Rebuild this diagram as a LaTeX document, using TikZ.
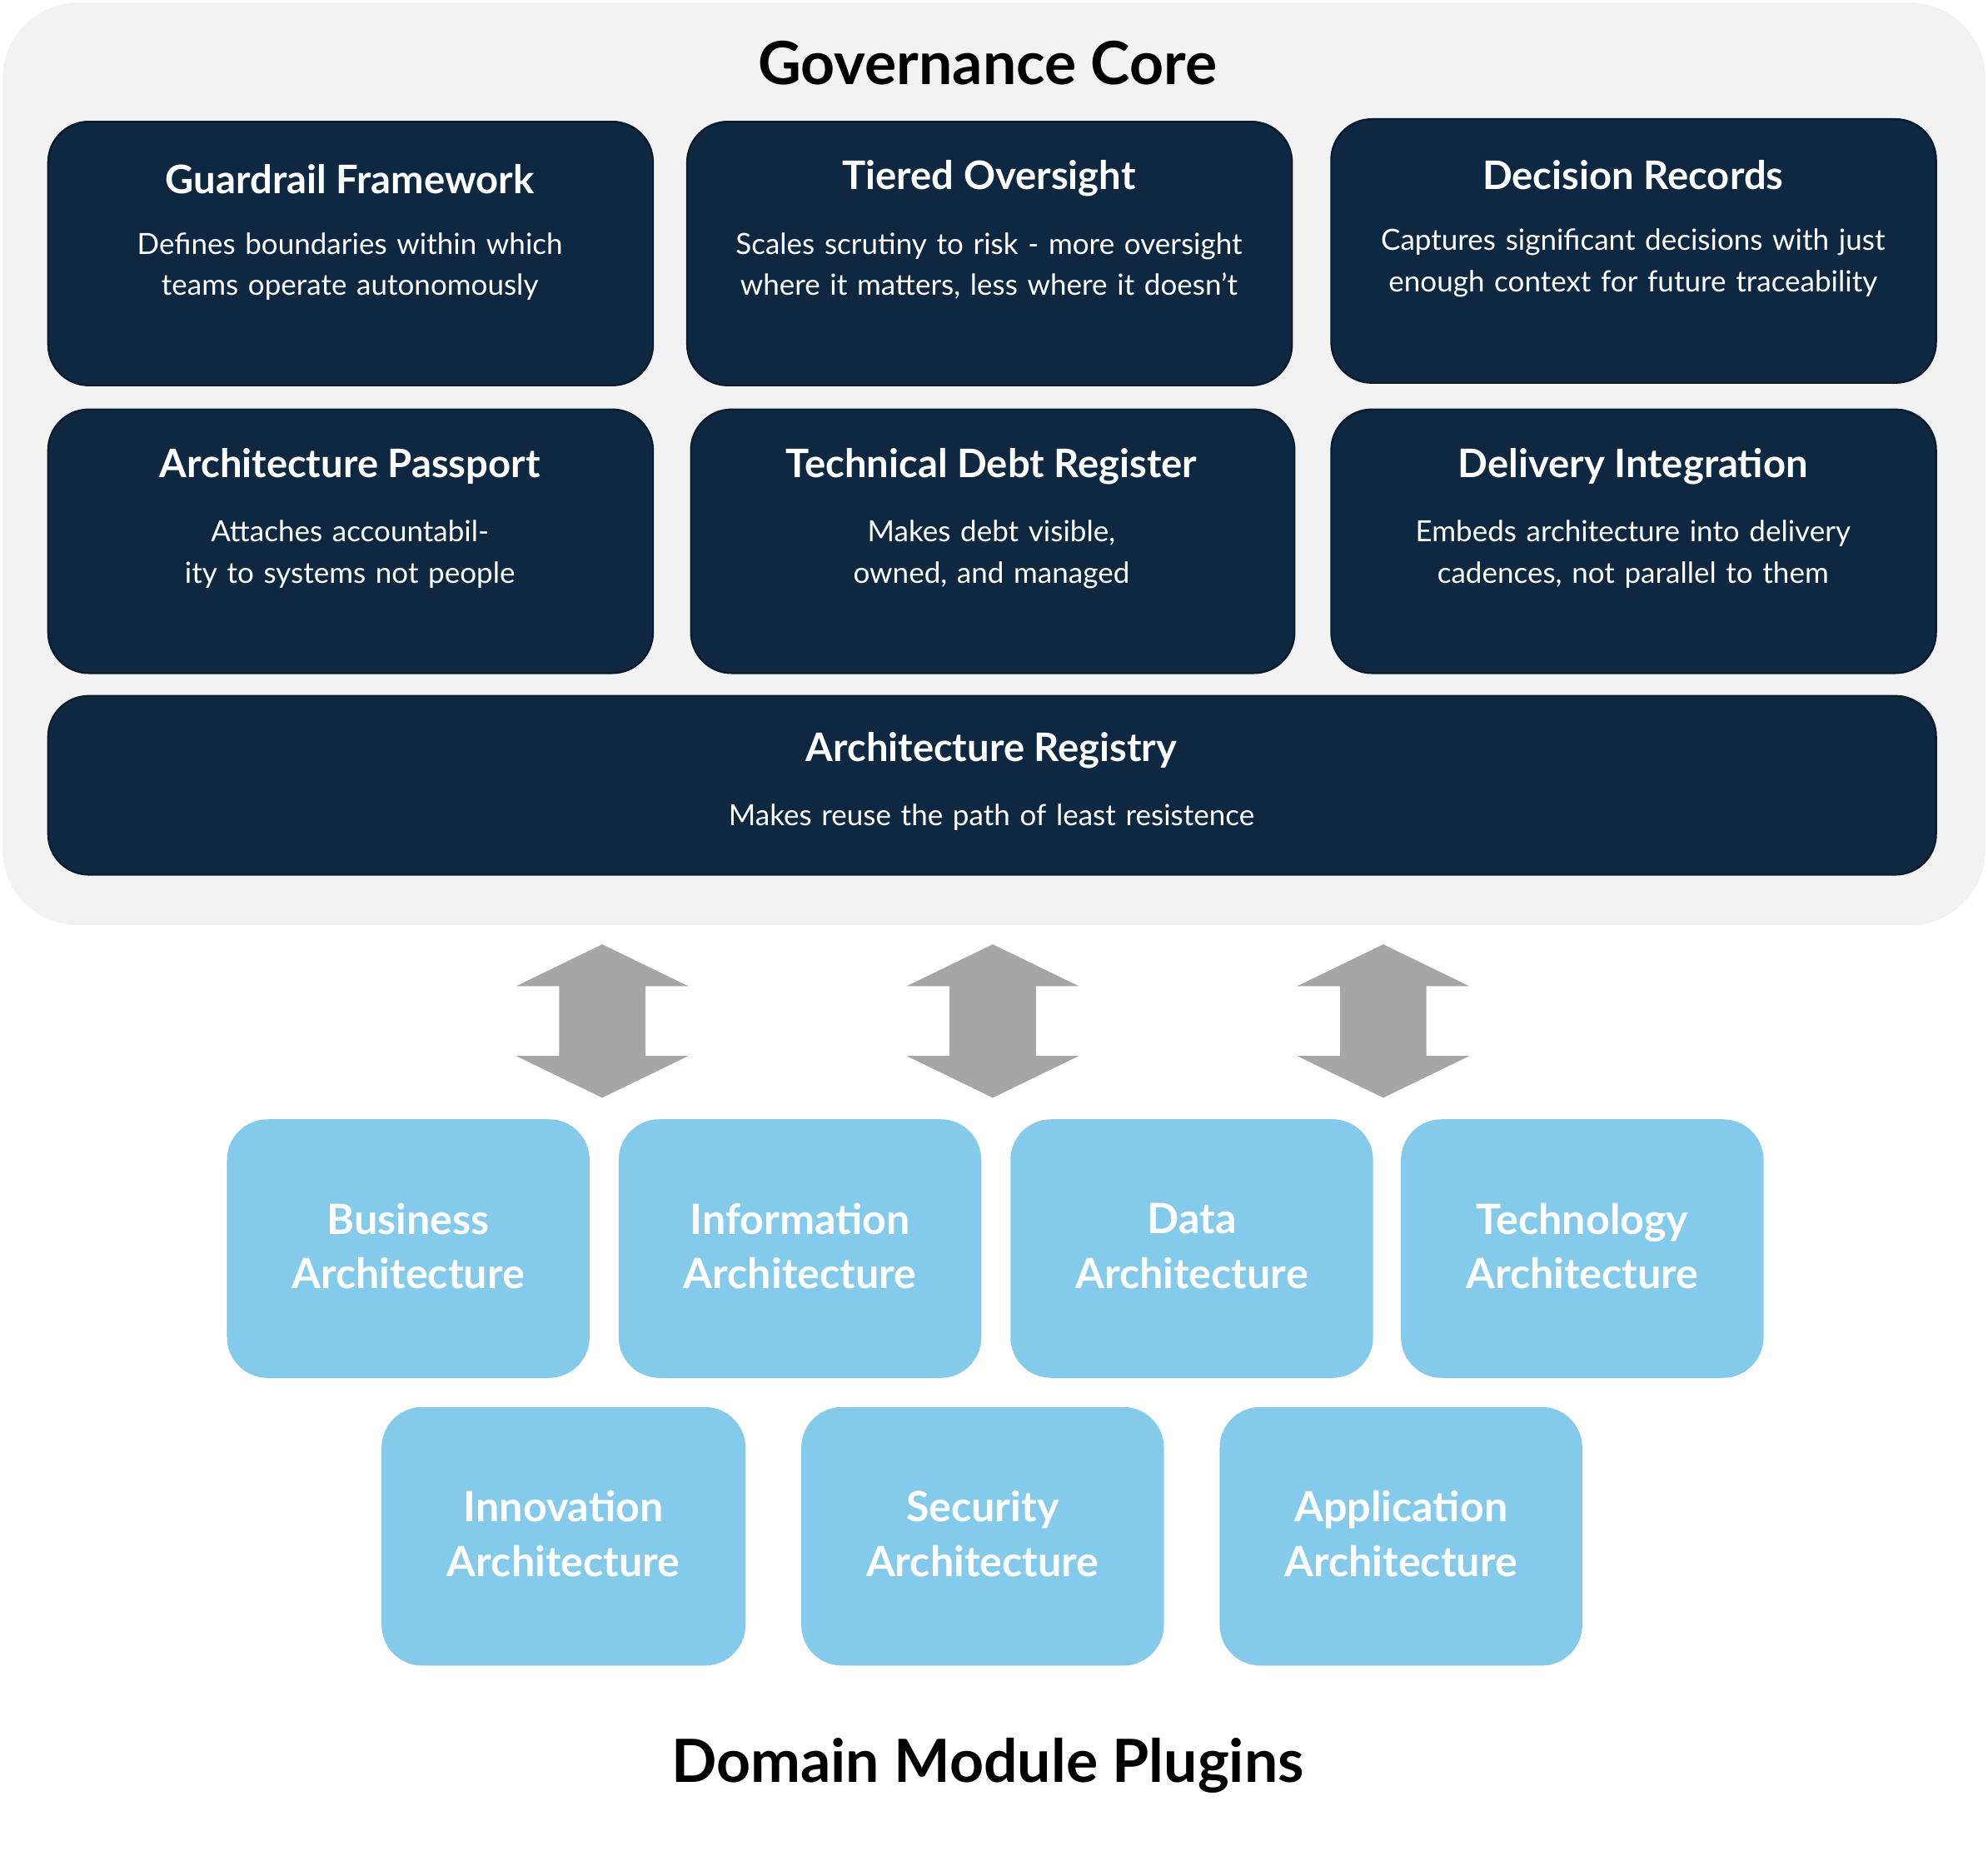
\documentclass[tikz,border=0pt]{standalone}
\usepackage{fontspec}
\setmainfont{Lato}
\definecolor{navy}{HTML}{0E2841}
\definecolor{panel}{HTML}{F2F2F2}
\definecolor{sky}{HTML}{83CAEB}
\definecolor{arr}{HTML}{A6A6A6}
\begin{document}
\begin{tikzpicture}[x=1pt,y=-1pt,
  dbox/.style={fill=navy,draw=navy!70!black,line width=1.5pt,rounded corners=32pt},
  bbox/.style={fill=sky,rounded corners=32pt},
  ttl/.style={text=white,font=\fontsize{31}{36}\selectfont\bfseries,anchor=center},
  dsc/.style={text=white,font=\fontsize{23}{32.5}\selectfont,align=center,text width=420pt,anchor=north},
  btx/.style={text=white,font=\fontsize{33}{43}\selectfont\bfseries,align=center}]
\useasboundingbox (0,0) rectangle (1568,1460);
\fill[panel,rounded corners=60pt] (2,2) rectangle (1566,730);
\node[font=\fontsize{47}{50}\selectfont\bfseries] (gc) at (779,50) {Governance Core};
% dark boxes
\draw[dbox] (38,96) rectangle (515,304);
\draw[dbox] (542,96) rectangle (1019,304);
\draw[dbox] (1050,94) rectangle (1527,302);
\draw[dbox] (38,323) rectangle (515,531);
\draw[dbox] (545,323) rectangle (1021,531);
\draw[dbox] (1050,323) rectangle (1527,531);
\draw[dbox] (38,549) rectangle (1527,690);
\node[ttl] (t1) at (276,141) {Guardrail Framework};
\node[dsc] (d1) at (276,180) {Defines boundaries within which teams operate autonomously};
\node[ttl] (t2) at (780,141) {Tiered Oversight};
\node[dsc] (d2) at (780,180) {Scales scrutiny to risk - more oversight where it matters, less where it doesn’t};
\node[ttl] (t3) at (1288,138) {Decision Records};
\node[dsc] (d3) at (1288,177) {Captures significant decisions with just enough context for future traceability};
\node[ttl] (t4) at (276,368) {Architecture Passport};
\node[dsc] (d4) at (276,407) {Attaches accountability to systems not people};
\node[ttl] (t5) at (782,368) {Technical Debt Register};
\node[dsc] (d5) at (782,407) {Makes debt visible, owned, and managed};
\node[ttl] (t6) at (1288,368) {Delivery Integration};
\node[dsc] (d6) at (1288,407) {Embeds architecture into delivery cadences, not parallel to them};
\node[ttl] (t7) at (782,592) {Architecture Registry};
\node[dsc,text width=700pt] (d7) at (782,631) {Makes reuse the path of least resistence};
% arrows
\foreach \cx/\n in {475/a1,783/a2,1091/a3}{
  \fill[arr] (\cx,745) -- (\cx+68,778) -- (\cx+34,778) -- (\cx+34,833) -- (\cx+68,833) -- (\cx,866)
    -- (\cx-68,833) -- (\cx-34,833) -- (\cx-34,778) -- (\cx-68,778) -- cycle;
  \coordinate (\n) at (\cx,805);
}
% blue boxes
\foreach \xa/\xb/\ya/\yb/\txt/\n in {179/465/883/1087/Business/b1,488/774/883/1087/Information/b2,797/1083/883/1087/Data/b3,1105/1391/883/1087/Technology/b4,301/588/1110/1314/Innovation/b5,632/918/1110/1314/Security/b6,962/1248/1110/1314/Application/b7}{
  \fill[bbox] (\xa,\ya) rectangle (\xb,\yb);
  \node[btx] (\n) at ({(\xa+\xb)/2},{(\ya+\yb)/2-2}) {\txt\\Architecture};
}
\node[font=\fontsize{47}{50}\selectfont\bfseries] (dm) at (779,1393) {Domain Module Plugins};
\end{tikzpicture}
\end{document}
